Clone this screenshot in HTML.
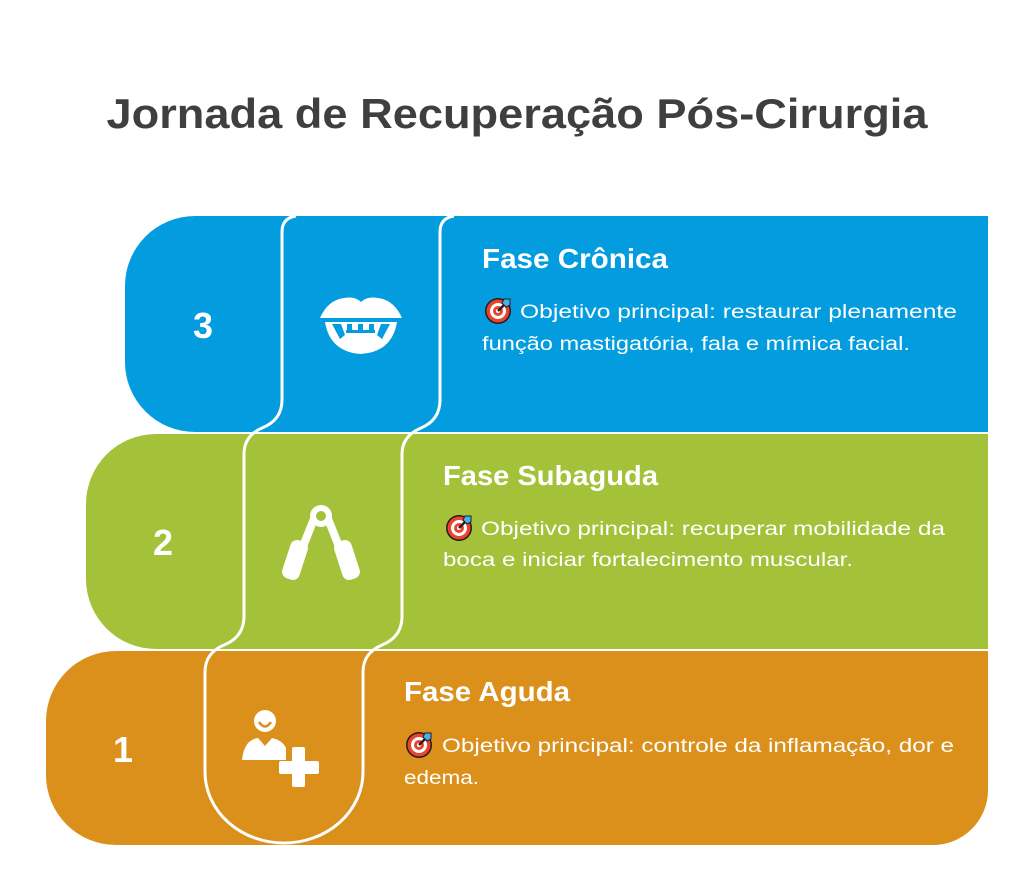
<!DOCTYPE html>
<html><head><meta charset="utf-8"><style>
html,body{margin:0;padding:0;background:#fff;}
svg{display:block;}
text{font-family:"Liberation Sans",sans-serif;}
</style></head><body>
<svg width="1024" height="878" viewBox="0 0 1024 878" xmlns="http://www.w3.org/2000/svg">
<defs>
<g id="tgt">
<circle cx="0" cy="0" r="13" fill="#2b1a1a"/>
<circle cx="0" cy="0" r="11.5" fill="#e8452f"/>
<circle cx="0" cy="0" r="8" fill="#fff"/>
<circle cx="0" cy="0" r="5" fill="#e8452f"/>
<circle cx="0" cy="0" r="2" fill="#fff"/>
<path d="M0 0 L9 -9" stroke="#2b1a1a" stroke-width="2.5"/>
<path d="M6 -12 L12 -12 L12 -6 L8 -4 L4 -8 Z" fill="#3fb4f0" stroke="#2b1a1a" stroke-width="1"/>
</g>
</defs>
<text x="517" y="128" text-anchor="middle" font-size="42" font-weight="bold" fill="#3f3f3f" textLength="821" lengthAdjust="spacingAndGlyphs">Jornada de Recuperação Pós-Cirurgia</text>

<path d="M195 216 H988 V432 H195 A70 70 0 0 1 125 362 V286 A70 70 0 0 1 195 216 Z" fill="#039ddf"/>
<path d="M156 434 H988 V649 H156 A70 70 0 0 1 86 579 V504 A70 70 0 0 1 156 434 Z" fill="#a4c13a"/>
<path d="M116 651 H988 V790 A55 55 0 0 1 933 845 H116 A70 70 0 0 1 46 775 V721 A70 70 0 0 1 116 651 Z" fill="#db901c"/>

<path d="M296 216 Q282 218 282 232 L282 400 Q282 420 262 428 Q244 436 244 454 L244 616 Q244 637 224 645 Q205 653 205 672 L205 772 A79 71 0 0 0 363 772 L363 672 Q363 653 382 645 Q402 637 402 616 L402 454 Q402 436 421 428 Q440 420 440 400 L440 232 Q440 218 454 216" fill="none" stroke="#fff" stroke-width="3"/>
<line x1="125" y1="433" x2="988" y2="433" stroke="#fff" stroke-width="2"/>
<line x1="86" y1="650" x2="988" y2="650" stroke="#fff" stroke-width="2"/>

<text x="203" y="338" text-anchor="middle" font-size="36" font-weight="bold" fill="#fff">3</text>
<text x="163" y="555" text-anchor="middle" font-size="36" font-weight="bold" fill="#fff">2</text>
<text x="123" y="762" text-anchor="middle" font-size="36" font-weight="bold" fill="#fff">1</text>

<g fill="#fff">
<path d="M320 318 Q328 300 344 298 Q355 296 361 302 Q367 296 378 298 Q394 300 402 318 Z"/>
<path d="M325 322 H397 Q392 352 361 354 Q330 352 325 322 Z"/>
</g>
<g fill="#039ddf">
<path d="M332 324 L341 324 L345 335 L340 339 Z"/>
<path d="M390 324 L381 324 L377 335 L382 339 Z"/>
<rect x="347" y="324" width="5" height="9"/>
<rect x="358" y="324" width="5" height="9"/>
<rect x="369" y="324" width="5" height="9"/>
<rect x="346" y="330" width="29" height="3"/>
</g>
<g fill="#fff">
<circle cx="321" cy="516" r="11"/>
<path d="M310 518 L298 548 L306 550 L317 522 Z"/>
<path d="M332 518 L344 548 L336 550 L325 522 Z"/>
<rect x="286" y="540" width="18" height="40" rx="7" transform="rotate(18 295 560)"/>
<rect x="338" y="540" width="18" height="40" rx="7" transform="rotate(-18 347 560)"/>
</g>
<circle cx="321" cy="516" r="5" fill="#a4c13a"/>
<g fill="#fff">
<circle cx="265" cy="721" r="11"/>
<path d="M242 760 Q244 740 258 738 L265 746 L272 738 Q282 740 286 748 L286 760 Z"/>
<rect x="292" y="747" width="13" height="40" rx="2"/>
<rect x="279" y="761" width="40" height="13" rx="2"/>
</g>
<path d="M259 722 Q265 731 271 722" stroke="#db901c" stroke-width="2.5" fill="none"/>

<g fill="#fff">
<text x="482" y="268" font-size="28" font-weight="bold" textLength="186" lengthAdjust="spacingAndGlyphs">Fase Crônica</text>
<use href="#tgt" x="498" y="311"/>
<text x="520" y="318" font-size="19" textLength="437" lengthAdjust="spacingAndGlyphs">Objetivo principal: restaurar plenamente</text>
<text x="482" y="350" font-size="19" textLength="428" lengthAdjust="spacingAndGlyphs">função mastigatória, fala e mímica facial.</text>

<text x="443" y="485" font-size="28" font-weight="bold" textLength="215" lengthAdjust="spacingAndGlyphs">Fase Subaguda</text>
<use href="#tgt" x="459" y="528"/>
<text x="481" y="535" font-size="19" textLength="464" lengthAdjust="spacingAndGlyphs">Objetivo principal: recuperar mobilidade da</text>
<text x="443" y="566" font-size="19" textLength="410" lengthAdjust="spacingAndGlyphs">boca e iniciar fortalecimento muscular.</text>

<text x="404" y="701" font-size="28" font-weight="bold" textLength="166" lengthAdjust="spacingAndGlyphs">Fase Aguda</text>
<use href="#tgt" x="419" y="745"/>
<text x="442" y="752" font-size="19" textLength="512" lengthAdjust="spacingAndGlyphs">Objetivo principal: controle da inflamação, dor e</text>
<text x="404" y="784" font-size="19" textLength="75" lengthAdjust="spacingAndGlyphs">edema.</text>
</g>
</svg>
</body></html>
